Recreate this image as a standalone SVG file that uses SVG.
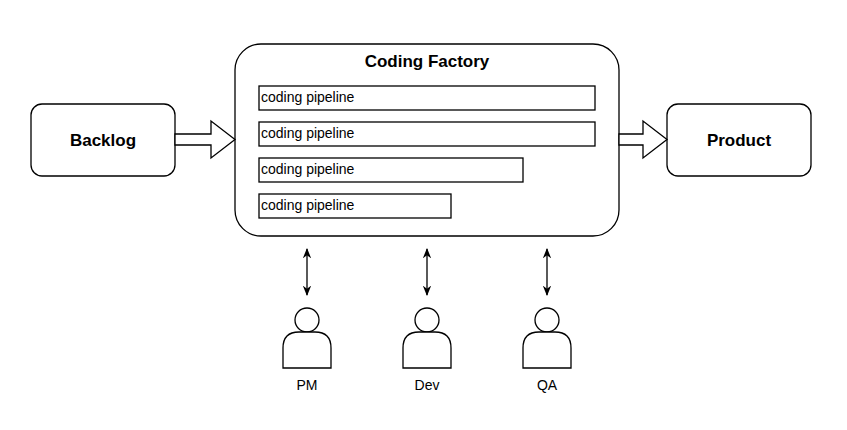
<svg xmlns="http://www.w3.org/2000/svg" width="847" height="430" viewBox="0 0 847 430">
<style>
.b{fill:#fff;stroke:#000;stroke-width:1.3}
.t{font-family:"Liberation Sans",Arial,sans-serif;font-size:17px;font-weight:bold;text-anchor:middle}
.p{font-family:"Liberation Sans",Arial,sans-serif;font-size:14px}
.l{font-family:"Liberation Sans",Arial,sans-serif;font-size:14px;text-anchor:middle}
.c{stroke:#000;stroke-width:1.3;fill:none}
</style>
<defs>
<marker id="a" viewBox="0 0 10 10" refX="9" refY="5" markerWidth="8" markerHeight="8" orient="auto-start-reverse"><path d="M0,1 L10,5 L0,9 L3,5 Z" fill="#000"/></marker>
</defs>
<rect width="847" height="430" fill="#fff"/>
<g id="backlog"><rect class="b" x="31" y="104" width="144" height="72" rx="11"/><text class="t" x="103" y="146">Backlog</text></g>
<g id="factory"><rect class="b" x="235" y="44" width="384" height="192" rx="26"/><text class="t" x="427" y="67">Coding Factory</text>
<rect class="b" x="259" y="86" width="336" height="24"/><text class="p" x="261" y="102">coding pipeline</text>
<rect class="b" x="259" y="122" width="336" height="24"/><text class="p" x="261" y="138">coding pipeline</text>
<rect class="b" x="259" y="158" width="264" height="24"/><text class="p" x="261" y="174">coding pipeline</text>
<rect class="b" x="259" y="194" width="192" height="24"/><text class="p" x="261" y="210">coding pipeline</text>
</g>
<g id="product"><rect class="b" x="667" y="104" width="144" height="72" rx="11"/><text class="t" x="739" y="146">Product</text></g>
<g id="connectors">
<path class="b" d="M175,134 H211 V121 L235,139.5 L211,158 V145 H175 Z"/>
<path class="b" d="M619,134 H643 V121 L667,139.5 L643,158 V145 H619 Z"/>
<line class="c" x1="307" y1="249" x2="307" y2="295" marker-start="url(#a)" marker-end="url(#a)"/>
<line class="c" x1="427" y1="249" x2="427" y2="295" marker-start="url(#a)" marker-end="url(#a)"/>
<line class="c" x1="547" y1="249" x2="547" y2="295" marker-start="url(#a)" marker-end="url(#a)"/>
</g>
<g id="pm"><circle class="b" cx="307" cy="320" r="12"/><path class="b" d="M283,368 V348 Q283,332 299,332 H315 Q331,332 331,348 V368 Z"/><text class="l" x="307" y="390">PM</text></g>
<g id="dev"><circle class="b" cx="427" cy="320" r="12"/><path class="b" d="M403,368 V348 Q403,332 419,332 H435 Q451,332 451,348 V368 Z"/><text class="l" x="427" y="390">Dev</text></g>
<g id="qa"><circle class="b" cx="547" cy="320" r="12"/><path class="b" d="M523,368 V348 Q523,332 539,332 H555 Q571,332 571,348 V368 Z"/><text class="l" x="547" y="390">QA</text></g>
</svg>
